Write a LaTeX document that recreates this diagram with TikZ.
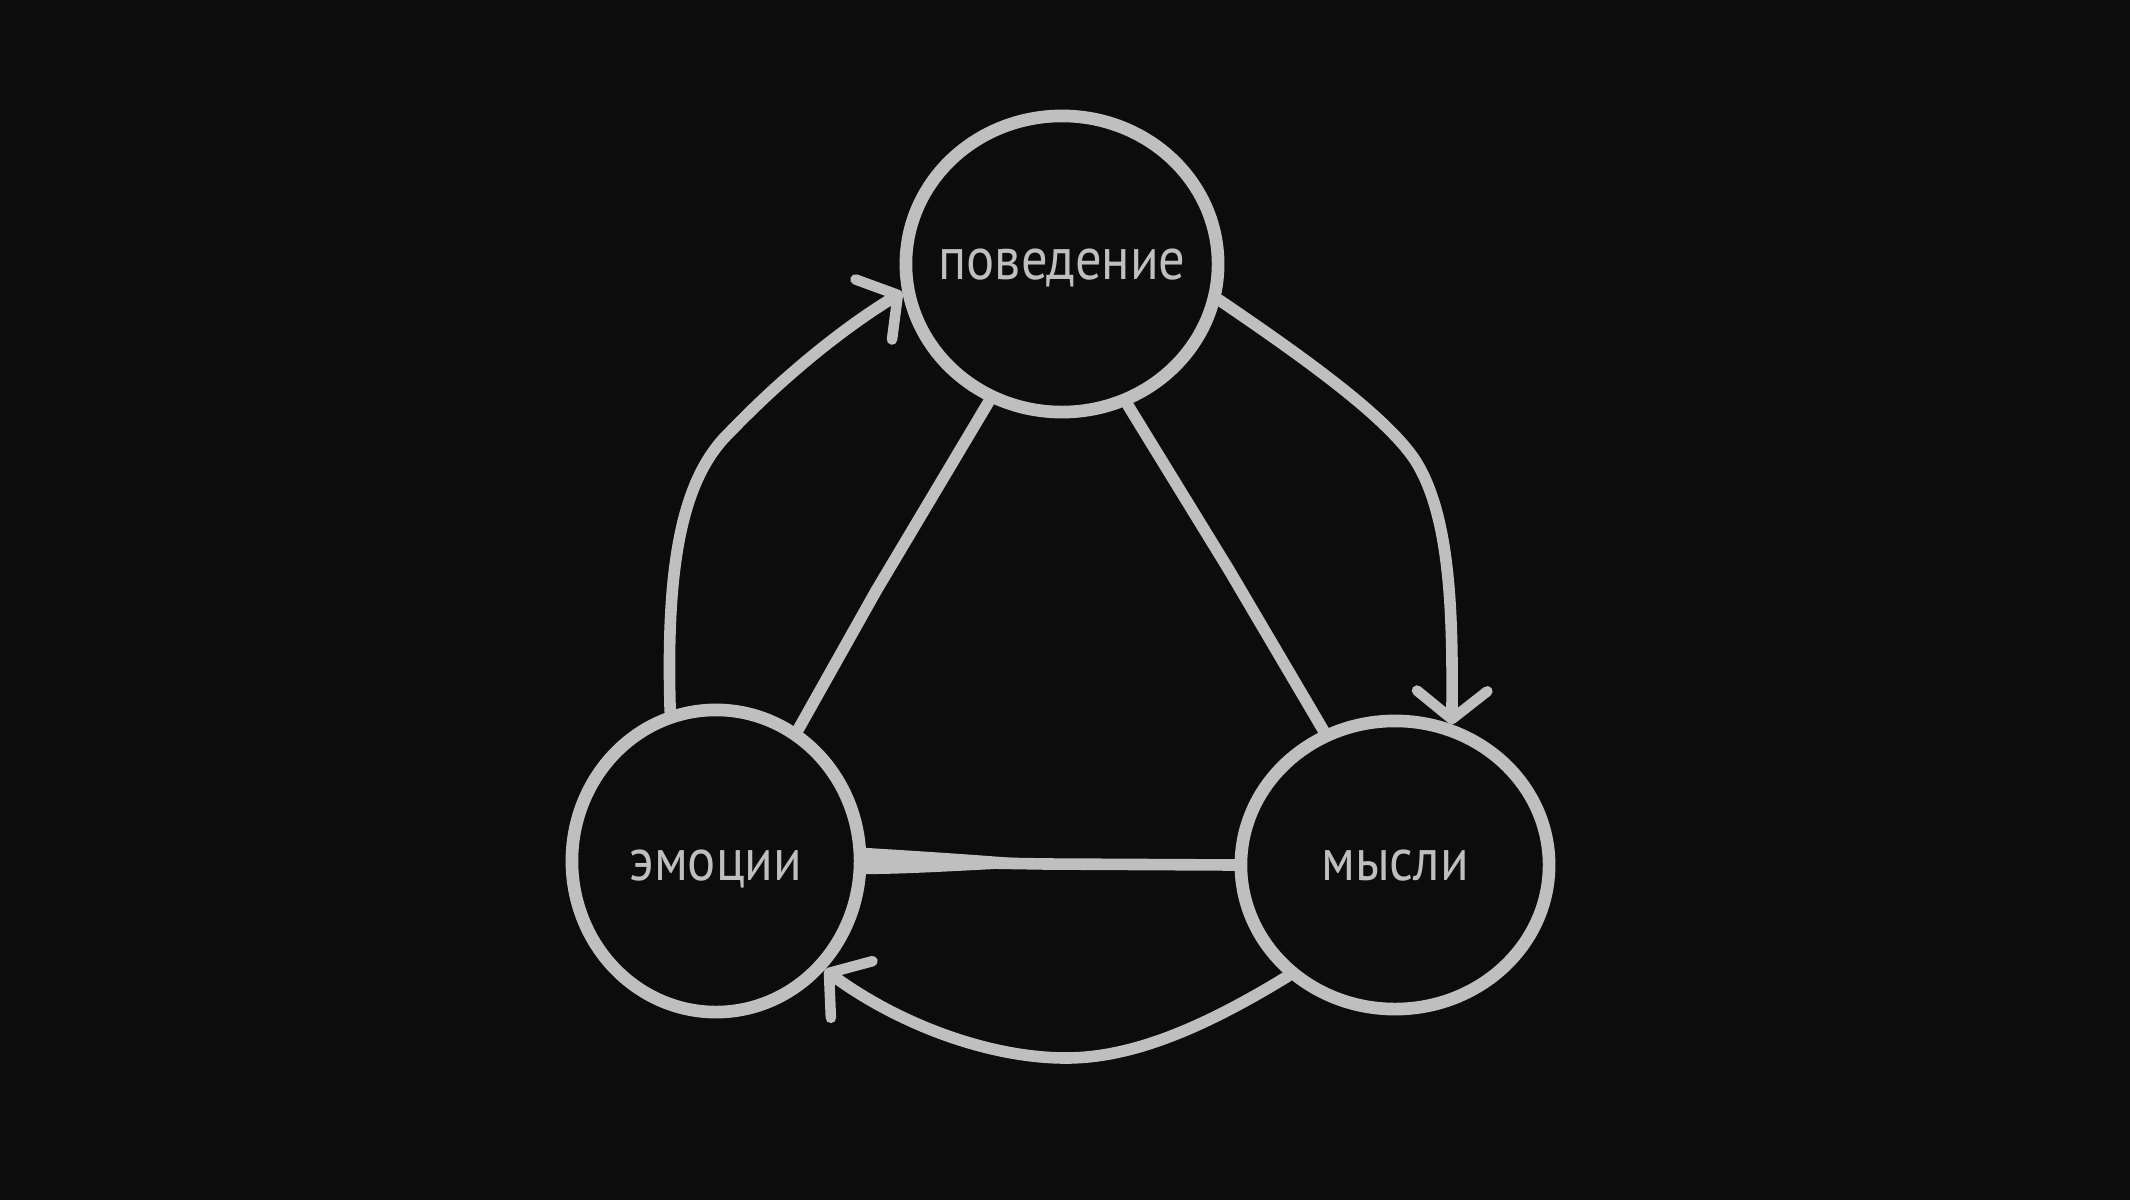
\documentclass[tikz,border=0pt]{standalone}
\usepackage{fontspec}
\setmainfont{PT Sans}[FakeStretch=0.88]
\usetikzlibrary{shapes.geometric,arrows.meta}
\definecolor{bg}{HTML}{0C0C0C}
\definecolor{ink}{HTML}{BFBFBF}
\newcommand{\ctext}[2]{\makebox[0pt]{\raisebox{-#1}[0pt][0pt]{#2}}}
\begin{document}
\begin{tikzpicture}[x=0.01cm,y=-0.01cm,
  state/.style={ellipse, draw=ink, line width=3.6pt, inner sep=0pt, text=ink,
    font=\fontsize{17}{20}\selectfont},
  link/.style={draw=ink, line width=3.3pt, line cap=round, line join=round},
  arr/.style={link, -{Straight Barb[length=8pt,width=20pt,line width=3pt,round]}}]
\fill[bg] (0,0) rectangle (2130,1200);
\useasboundingbox (0,0) rectangle (2130,1200);
\node[state, minimum width=3.12cm, minimum height=2.96cm] (beh) at (1062,264) {\ctext{4.5pt}{поведение}};
\node[state, minimum width=2.88cm, minimum height=3.02cm] (emo) at (716,861) {\ctext{5.5pt}{эмоции}};
\node[state, minimum width=3.08cm, minimum height=2.88cm] (tho) at (1395,865) {\ctext{4.5pt}{мысли}};
\draw[arr] (emo.107) .. controls (666,570) and (680,480) .. (730,432) .. controls (780,380) and (840,330) .. (beh.190);
\draw[arr] (beh.-13) .. controls (1300,355) and (1385,415) .. (1415,460) .. controls (1450,515) and (1453,610) .. (tho.68);
\draw[arr] (tho.226) .. controls (1200,1030) and (1130,1058) .. (1066,1058) .. controls (990,1058) and (900,1025) .. (emo.-45);
\draw[link] (beh.242) -- (876,591) -- (emo.58);
\draw[link] (beh.-65) -- (1229,570) -- (tho.118);
\draw[link] (emo.0) -- (1046,864) -- (tho.180);
\fill[ink] (emo.5) .. controls (900,850) and (1000,856) .. (1060,862) -- (1060,866) .. controls (1000,868) and (920,874) .. (emo.-5) -- cycle;
\end{tikzpicture}
\end{document}
